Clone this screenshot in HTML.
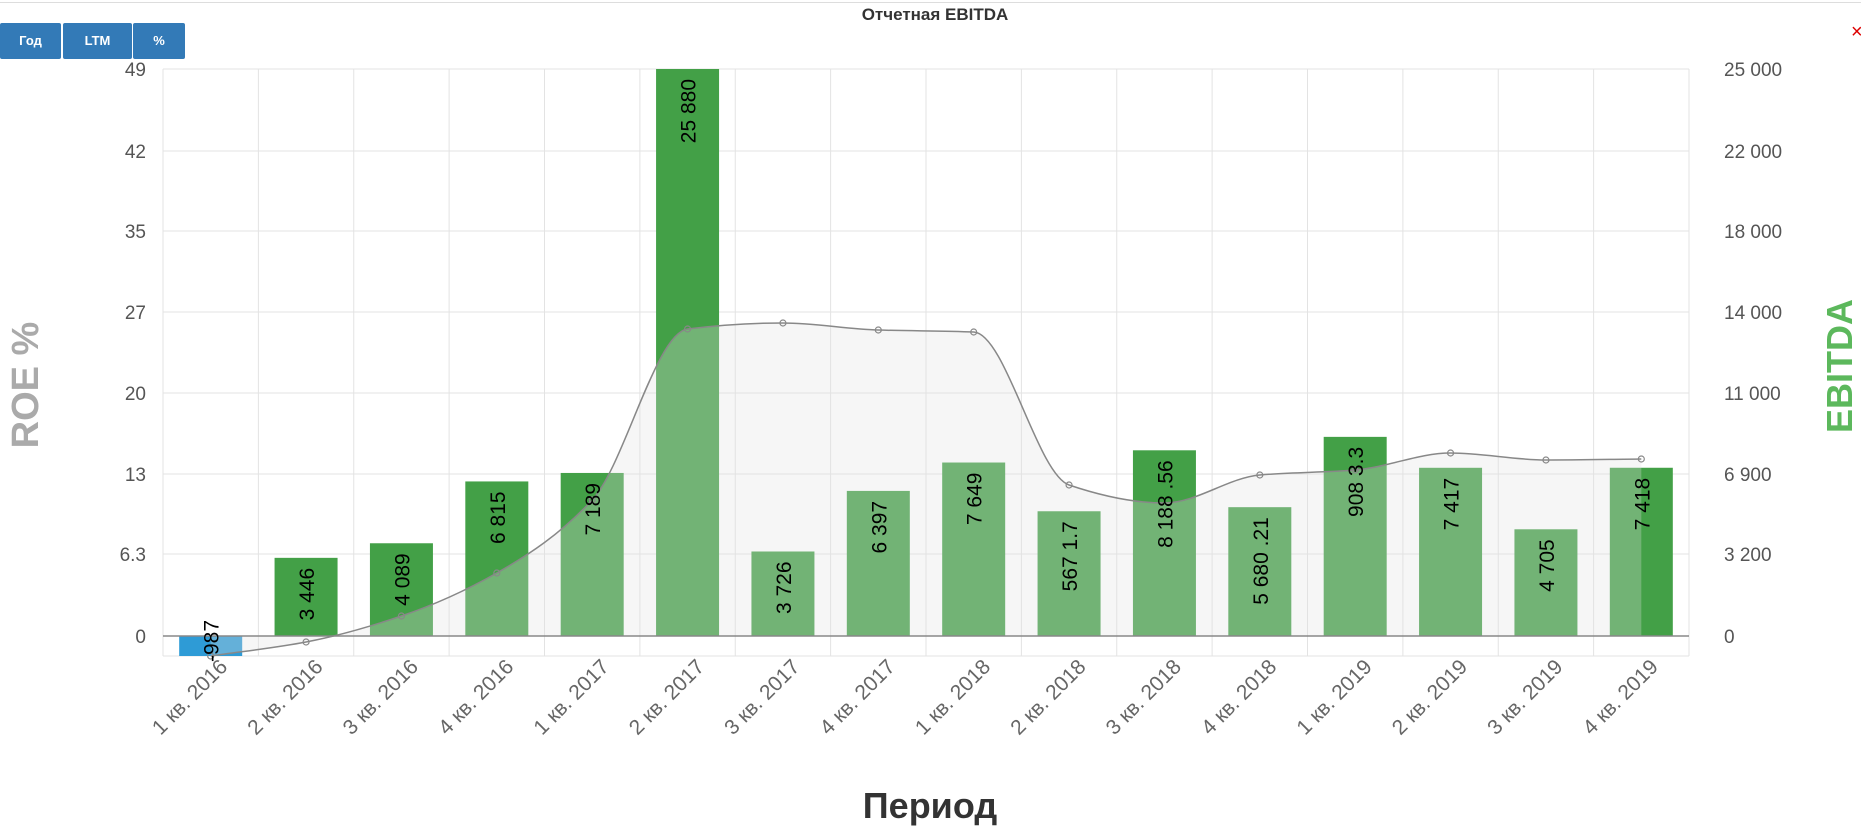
<!DOCTYPE html>
<html><head><meta charset="utf-8"><style>
body{margin:0;background:#fff;width:1861px;height:826px;overflow:hidden;font-family:"Liberation Sans",sans-serif;position:relative}
.btn{position:absolute;top:23px;height:36px;background:#337ab7;color:#fff;font-size:13px;font-weight:bold;line-height:36px;text-align:center;border-radius:2px}
</style></head><body>
<div style="position:absolute;left:0;top:2px;width:1861px;height:1px;background:#ddd"></div>
<div class="btn" style="left:0;width:61px">Год</div>
<div class="btn" style="left:63px;width:69px">LTM</div>
<div class="btn" style="left:133px;width:52px">%</div>
<svg id="s" width="1861" height="826" style="position:absolute;left:0;top:0" xmlns="http://www.w3.org/2000/svg" font-family="Liberation Sans, sans-serif"></svg>
<script>
var s=document.getElementById('s'),h='';
var L=163,R=1689,T=69,Z=636,B=656,W=(R-L)/16;
h+='<text x="935" y="20" text-anchor="middle" font-size="17" font-weight="bold" fill="#333">Отчетная EBITDA</text>';
h+='<text x="1851" y="38" font-size="20" fill="#d00">×</text>';
var ly=[69,151,231,312,393,474,554,636],ll=['49','42','35','27','20','13','6.3','0'],rl=['25 000','22 000','18 000','14 000','11 000','6 900','3 200','0'];
for(var i=0;i<8;i++){
 if(i<7)h+='<line x1="'+L+'" x2="'+R+'" y1="'+ly[i]+'" y2="'+ly[i]+'" stroke="#e3e3e3"/>';
 h+='<text x="146" y="'+(ly[i]+7)+'" text-anchor="end" font-size="19" fill="#555">'+ll[i]+'</text>';
 h+='<text x="1724" y="'+(ly[i]+7)+'" font-size="19" fill="#555">'+rl[i]+'</text>';
}
for(var i=0;i<=16;i++){var x=L+W*i;h+='<line x1="'+x+'" x2="'+x+'" y1="'+T+'" y2="'+B+'" stroke="#e3e3e3"/>';}
h+='<line x1="'+L+'" x2="'+R+'" y1="'+B+'" y2="'+B+'" stroke="#e3e3e3"/>';
var v=[-987,3446,4089,6815,7189,25880,3726,6397,7649,5500,8188,5680,8780,7417,4705,7418];
var lab=['-987','3 446','4 089','6 815','7 189','25 880','3 726','6 397','7 649','567 1.7','8 188 .56','5 680 .21','908 3.3','7 417','4 705','7 418'];
var k=(Z-T)/25000,bw=63;
for(var i=0;i<16;i++){var cx=L+W*(i+.5),val=v[i];
 if(val<0)h+='<rect x="'+(cx-bw/2)+'" y="'+Z+'" width="'+bw+'" height="'+(B-Z)+'" fill="#2e9bd6"/>';
 else{var t=Math.max(T,Z-val*k);h+='<rect x="'+(cx-bw/2)+'" y="'+t+'" width="'+bw+'" height="'+(Z-t)+'" fill="#43a047"/>';}
}
var py=[656,642,616,573,500,329,323,330,332,485,503,475,470,453,460,459];
var P=py.map(function(y,i){return [L+W*(i+.5),y]});
var n=P.length,dl=[],m=[];
for(var i=0;i<n-1;i++)dl.push((P[i+1][1]-P[i][1])/W);
for(var i=0;i<n;i++){
 if(i==0)m.push(dl[0]);else if(i==n-1)m.push(dl[n-2]);
 else if(dl[i-1]*dl[i]<=0)m.push(0);else m.push(2/(1/dl[i-1]+1/dl[i]));
}
var d='M'+P[0][0]+','+P[0][1];
for(var i=0;i<n-1;i++){var a=P[i],b=P[i+1];
 d+=' C'+(a[0]+W/3)+','+(a[1]+m[i]*W/3)+' '+(b[0]-W/3)+','+(b[1]-m[i+1]*W/3)+' '+b[0]+','+b[1];}
h+='<path d="'+d+' L'+P[15][0]+','+Z+' L'+P[0][0]+','+Z+' Z" fill="rgb(225,225,225)" fill-opacity="0.3"/>';
h+='<line x1="'+L+'" x2="'+R+'" y1="'+Z+'" y2="'+Z+'" stroke="#888" stroke-width="1.5"/>';
h+='<path d="'+d+'" fill="none" stroke="#888" stroke-width="1.5"/>';
P.forEach(function(p,i){if(i!=10)h+='<circle cx="'+p[0]+'" cy="'+p[1]+'" r="3" fill="none" stroke="#888" stroke-width="1.2"/>';});
for(var i=0;i<16;i++){var cx=L+W*(i+.5),val=v[i];
 if(val<0)h+='<text transform="translate('+(cx+8)+',662) rotate(-90)" text-anchor="start" font-size="21" fill="#000">'+lab[i]+'</text>';
 else{var t=Math.max(T,Z-val*k)+10;
 h+='<text transform="translate('+(cx+8)+','+t+') rotate(-90)" text-anchor="end" font-size="21" fill="#000">'+lab[i]+'</text>';}
 var q=['1','2','3','4'][i%4]+' кв. '+(2016+Math.floor(i/4));
 h+='<text transform="translate('+(cx+18)+',668) rotate(-45)" text-anchor="end" font-size="21" fill="#666">'+q+'</text>';
}
h+='<text x="930" y="818" text-anchor="middle" font-size="36" font-weight="bold" fill="#333">Период</text>';
h+='<text transform="translate(38,385) rotate(-90)" text-anchor="middle" font-size="38" font-weight="bold" fill="#aaa">ROE %</text>';
h+='<text transform="translate(1852,366) rotate(-90)" text-anchor="middle" font-size="36" font-weight="bold" fill="#5cb85c">EBITDA</text>';
s.innerHTML=h;
</script>
</body></html>
